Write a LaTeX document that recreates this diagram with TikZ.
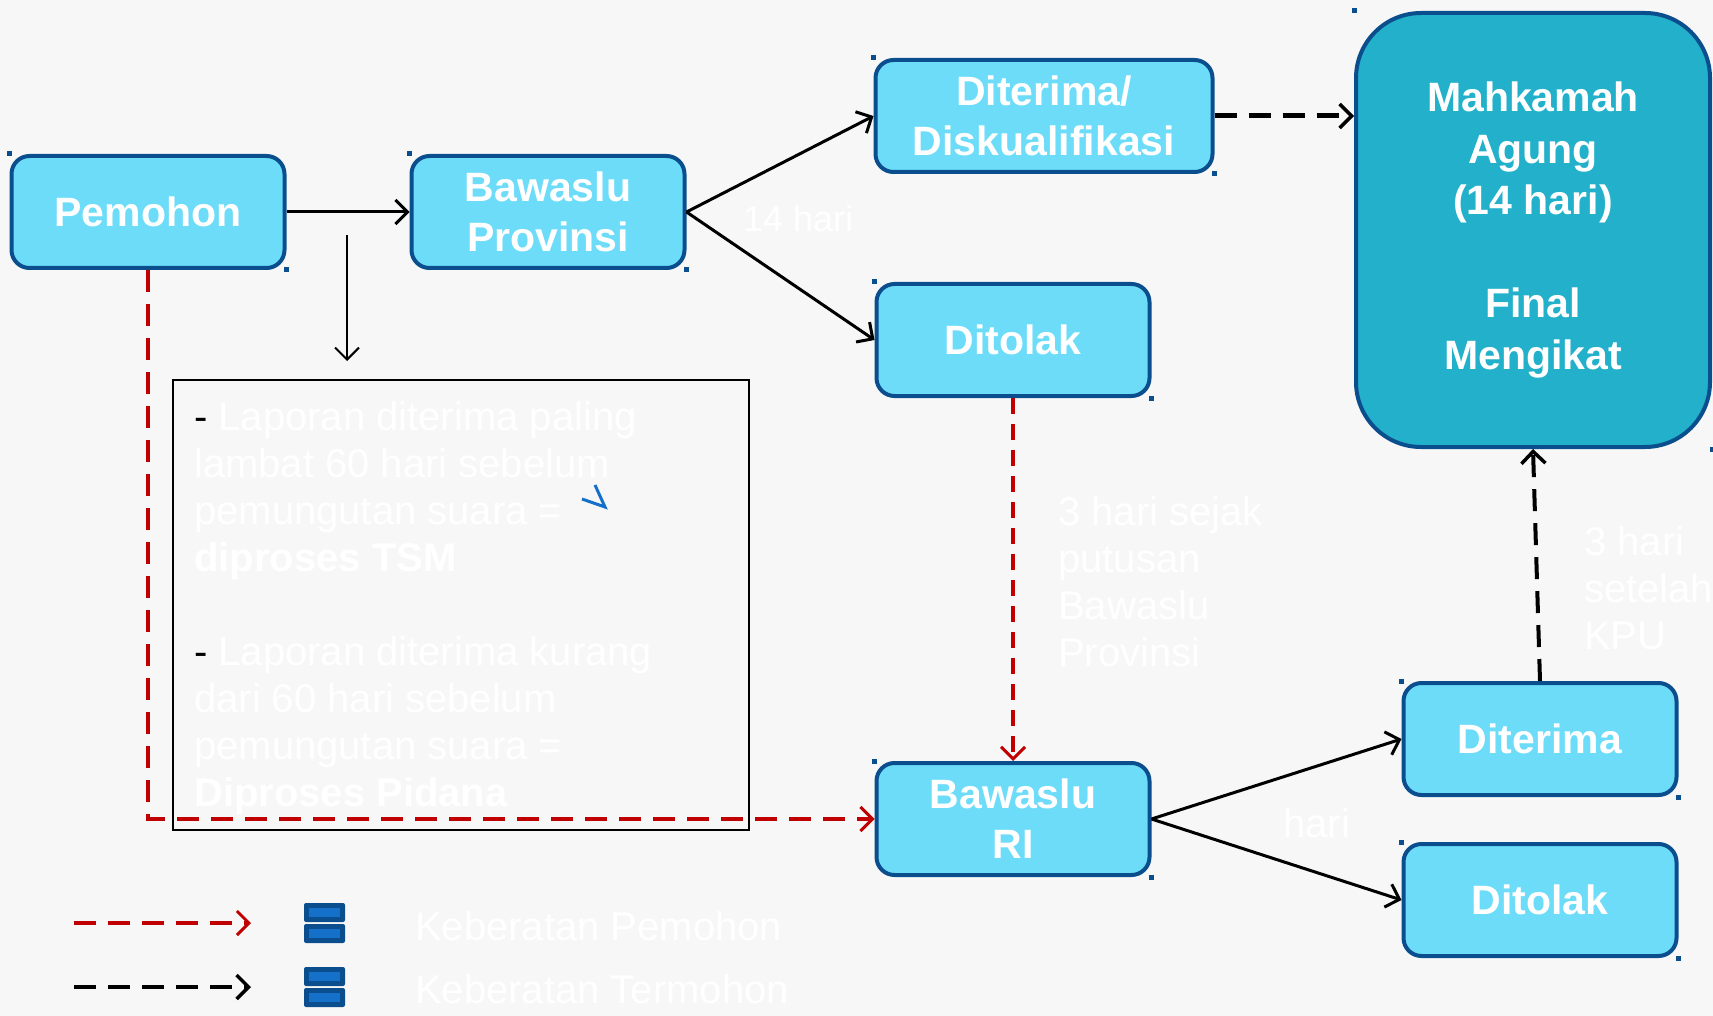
\documentclass[tikz,border=0pt]{standalone}
\usepackage{fontspec}
\setmainfont{Liberation Sans}
\usetikzlibrary{positioning,arrows.meta}

\definecolor{boxfill}{HTML}{6DDCF9}
\definecolor{boxline}{HTML}{0B4E8E}
\definecolor{mafill}{HTML}{22B0CA}
\definecolor{redline}{HTML}{C00000}
\definecolor{iconin}{HTML}{1470C8}
\definecolor{bgcol}{HTML}{F7F7F7}

\begin{document}
\begin{tikzpicture}[x=1pt, y=-1pt, node distance = 400pt, on grid,
box/.style={draw=boxline, line width=4pt, fill=boxfill, rounded corners=18pt,
  minimum width=273pt, minimum height=112pt, inner sep=0pt, align=center,
  text=white, font=\fontsize{41}{50}\selectfont\bfseries},
note/.style={text=white, align=left, inner sep=0pt, font=\fontsize{40}{47}\selectfont},
flow/.style={line width=3pt, -{Straight Barb[length=12pt,width=24pt]}},
blackdash/.style={line width=5pt, dash pattern=on 22pt off 12pt, -{Straight Barb[length=12pt,width=24pt,line width=3.5pt]}},
reddash/.style={draw=redline, line width=4pt, dash pattern=on 22pt off 12pt, -{Straight Barb[length=12pt,width=24pt,line width=3pt]}}]
\fill [bgcol] (0,0) rectangle (1713,1016);
\useasboundingbox (0,0) rectangle (1713,1016);

\node [box] (pemohon) at (148,212) {Pemohon};
\node [box] (bprov) [right = of pemohon] {Bawaslu\\Provinsi};
\node [box, minimum width=337pt] (diskual) at (1044,116) {Diterima/\\Diskualifikasi};
\node [box] (bri) at (1013,819) {Bawaslu\\RI};
\node [box] (ditolak) [above = 479pt of bri] {Ditolak};
\node [box, fill=mafill, minimum width=354pt, minimum height=434pt, rounded corners=65pt,
  font=\fontsize{41}{51.5}\selectfont\bfseries] (mahkamah) at (1533,230)
  {Mahkamah\\Agung\\(14 hari)\\[51.5pt]Final\\Mengikat};
\node [box] (diterima) at (1540,739) {Diterima};
\node [box] (ditolakri) [below = 161pt of diterima] {Ditolak};

% kotak keterangan
\node [draw, line width=2pt, minimum width=576pt, minimum height=450pt] (lapor) at (461,605) {};
\node [note, anchor=north west] (laportext) at (194,401)
  {{\color{black}-} Laporan diterima paling\\lambat 60 hari sebelum\\pemungutan suara =\\\textbf{diproses TSM}\\[47pt]%
   {\color{black}-} Laporan diterima kurang\\dari 60 hari sebelum\\pemungutan suara =\\\textbf{Diproses Pidana}};
\draw [color=iconin, line width=3pt] (582,499) -- (605,507) -- (595,485);

% label hari
\node [note, font=\fontsize{36}{44}\selectfont, anchor=base west] (hari1) at (743,232) {14 hari};
\node [note, anchor=north west] (hari2) at (1058,496) {3 hari sejak\\putusan\\Bawaslu\\Provinsi};
\node [note, anchor=north west] (hari3) at (1584,526) {3 hari\\setelah\\KPU};
\node [note, anchor=base west] (hari4) at (1283,837) {hari};

\coordinate (split) at (347,235);
\coordinate (splitend) at (347,361);

\path [flow]
(pemohon) edge (bprov)
(bprov.east) edge (diskual.west)
edge (ditolak.west)
(bri.east) edge (diterima.west)
edge (ditolakri.west);
\draw [flow, line width=2pt] (split) -- (splitend);
\draw [blackdash] (diskual.east) -- (diskual.east -| mahkamah.west);
\draw [blackdash, line width=4pt] (diterima.north) -- (mahkamah.south);
\draw [reddash, line width=3.5pt, dash pattern=on 16pt off 10pt] (ditolak.south) -- (bri.north);
\draw [reddash] (pemohon.south) |- (bri.west);

% tanda sudut
\foreach \n in {pemohon, bprov, diskual, ditolak, mahkamah, bri, diterima, ditolakri}
  {\fill [boxline] (\n.north west) ++(-2.5pt,-2.5pt) rectangle ++(5pt,5pt);
   \fill [boxline] (\n.south east) ++(-2.5pt,-2.5pt) rectangle ++(5pt,5pt);}

% legenda
\coordinate (redstart) at (74,923);
\coordinate (redend) at (251,923);
\coordinate (blackstart) at (74,987);
\coordinate (blackend) at (251,987);
\draw [reddash] (redstart) -- (redend);
\draw [blackdash, line width=4pt] (blackstart) -- (blackend);
\foreach \y in {903, 924, 967, 988}
  {\fill [boxline, rounded corners=2pt] (304,\y) rectangle (345,\y+19);
   \fill [iconin] (309,\y+5) rectangle (340,\y+14);}
\node [note, anchor=base west] (legred) at (415,940) {Keberatan Pemohon};
\node [note, anchor=base west] (legblack) at (415,1003) {Keberatan Termohon};
\end{tikzpicture}
\end{document}
